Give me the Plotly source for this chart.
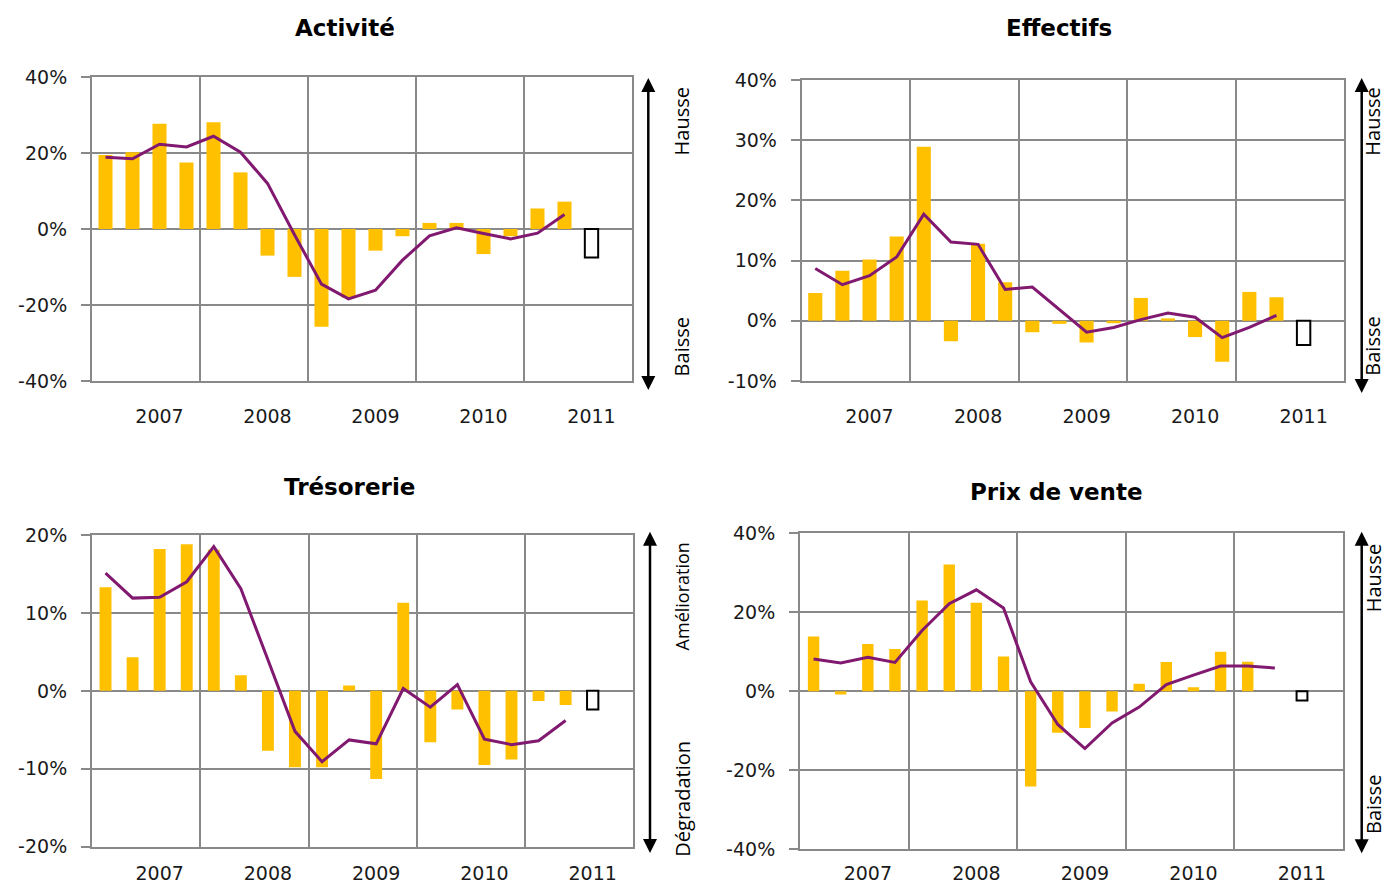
import plotly.graph_objects as go

# ---------------- data ----------------
slots = list(range(18))          # quarterly observations 2007T1 .. 2011T2
fcast_slot = 18                  # forecast (outlined box)
year_pos = [2, 6, 10, 14, 18]
year_labels = ["2007", "2008", "2009", "2010", "2011"]

act_bars = [19.5, 20.2, 27.7, 17.5, 28.1, 14.9, -7.0, -12.6, -25.7, -18.1, -5.7, -1.9, 1.6, 1.6, -6.6, -1.9, 5.4, 7.2]
act_line = [18.9, 18.5, 22.3, 21.6, 24.4, 20.2, 12.0, -1.5, -14.5, -18.4, -16.1, -8.2, -1.8, 0.3, -1.2, -2.6, -1.1, 3.8]
act_fc = -7.5

eff_bars = [4.6, 8.3, 10.2, 14.0, 28.9, -3.4, 12.8, 6.4, -1.9, -0.5, -3.6, -0.4, 3.8, 0.4, -2.7, -6.8, 4.8, 3.9]
eff_line = [8.7, 6.0, 7.5, 10.6, 17.7, 13.1, 12.7, 5.2, 5.6, 1.8, -1.9, -1.1, 0.2, 1.3, 0.6, -2.8, -1.1, 0.9]
eff_fc = -4.0

tre_bars = [13.3, 4.3, 18.2, 18.8, 18.1, 2.0, -7.7, -9.8, -9.8, 0.7, -11.3, 11.3, -6.6, -2.4, -9.5, -8.8, -1.3, -1.8]
tre_line = [15.1, 11.9, 12.0, 14.0, 18.5, 13.1, 4.0, -5.2, -9.1, -6.3, -6.8, 0.3, -2.1, 0.8, -6.2, -6.9, -6.4, -3.8]
tre_fc = -2.4

prix_bars = [13.9, -0.8, 12.0, 10.7, 23.0, 32.1, 22.4, 8.8, -24.1, -10.5, -9.3, -5.1, 1.9, 7.4, 1.0, 10.0, 7.5, None]
prix_line = [8.2, 7.2, 8.6, 7.3, 15.4, 22.2, 25.7, 21.1, 2.4, -8.4, -14.5, -8.0, -4.0, 1.7, 4.1, 6.4, 6.4, 5.9]
prix_fc = -2.3

# ---------------- layout helpers ----------------
OFF = 8
W, H = 1379, 876
def fx(X):
    return (X - OFF) / W
def fy(Y):
    return 1 - (Y - OFF) / H

BAR = "#FFC000"
LINE = "#80196F"
GRID = "#898989"
TXT = "#1a1a1a"

panels = [
    dict(title="Activité", bars=act_bars, line=act_line, fc=act_fc,
         box=(92, 632, 77, 381), yr=(-40, 40), dt=20, bw=0.52, xs=17,
         tpos=(344.5, 28), arrow=(648.3, 78, 390),
         labels=[("Hausse", 681.7, 121.7, 20), ("Baisse", 681.7, 346.7, 20)]),
    dict(title="Effectifs", bars=eff_bars, line=eff_line, fc=eff_fc,
         box=(801.7, 1344.3, 80, 381), yr=(-10, 40), dt=10, bw=0.52, xs=17,
         tpos=(1059, 28), arrow=(1361.7, 78, 393),
         labels=[("Hausse", 1373, 121.7, 20), ("Baisse", 1373, 346.7, 20)]),
    dict(title="Trésorerie", bars=tre_bars, line=tre_line, fc=tre_fc,
         box=(92, 633.3, 535, 846.7), yr=(-20, 20), dt=10, bw=0.44, xs=8,
         tpos=(349.5, 487), arrow=(650, 531.7, 853),
         labels=[("Amélioration", 681.7, 596.7, 18), ("Dégradation", 681.7, 799, 20)]),
    dict(title="Prix de vente", bars=prix_bars, line=prix_line, fc=prix_fc,
         box=(800, 1342.7, 533.3, 849.3), yr=(-40, 40), dt=20, bw=0.42, xs=6,
         tpos=(1056.5, 492), arrow=(1361.7, 531.7, 853.3),
         labels=[("Hausse", 1373, 578.3, 20), ("Baisse", 1373, 805, 20)]),
]

fig = go.Figure()
annotations = []
shapes = []

for i, p in enumerate(panels, start=1):
    xa = "x" if i == 1 else f"x{i}"
    ya = "y" if i == 1 else f"y{i}"
    fig.add_trace(go.Bar(x=slots, y=p["bars"], width=p["bw"], marker=dict(color=BAR, line=dict(width=0)),
                         xaxis=xa, yaxis=ya, showlegend=False))
    fig.add_trace(go.Bar(x=[fcast_slot], y=[p["fc"]], width=p["bw"] * 0.95,
                         marker=dict(color="white", line=dict(color="black", width=2)),
                         xaxis=xa, yaxis=ya, showlegend=False))
    fig.add_trace(go.Scatter(x=slots, y=p["line"], mode="lines", line=dict(color=LINE, width=3),
                             xaxis=xa, yaxis=ya, showlegend=False))
    x0, x1, y0, y1 = p["box"]
    lo, hi = p["yr"]
    tv = list(range(lo, hi + 1, p["dt"]))
    xkey = "xaxis" if i == 1 else f"xaxis{i}"
    ykey = "yaxis" if i == 1 else f"yaxis{i}"
    fig.layout[xkey] = dict(
        domain=[fx(x0), fx(x1)], range=[-0.5, 19.5], anchor=ya, automargin=False,
        tickmode="array", tickvals=year_pos, ticktext=year_labels,
        showgrid=False, zeroline=False, ticks="",
        showline=True, linecolor=GRID, linewidth=2, mirror=True,
        tickfont=dict(family="DejaVu Sans", size=19, color=TXT),
        ticklabelstandoff=p["xs"],
        minor=dict(tickmode="array", tickvals=[3.5, 7.5, 11.5, 15.5], showgrid=True,
                   gridcolor=GRID, gridwidth=2, ticks=""),
    )
    fig.layout[ykey] = dict(
        domain=[fy(y1), fy(y0)], range=[lo, hi], anchor=xa, automargin=False,
        tickmode="array", tickvals=tv, ticktext=[f"{v}%" for v in tv],
        showgrid=True, gridcolor=GRID, gridwidth=2, zeroline=False,
        showline=True, linecolor=GRID, linewidth=2, mirror=True,
        ticks="outside", ticklen=9, tickwidth=2, tickcolor=GRID,
        tickfont=dict(family="DejaVu Sans", size=19, color=TXT),
        ticklabelstandoff=10,
    )
    # title
    tx, ty = p["tpos"]
    annotations.append(dict(text=f"<b>{p['title']}</b>", x=fx(tx), y=fy(ty), xref="paper", yref="paper",
                            xanchor="center", yanchor="middle", showarrow=False,
                            font=dict(family="DejaVu Sans", size=23, color="black")))
    # side labels
    for txt, lx, ly, fs in p["labels"]:
        annotations.append(dict(text=txt, x=fx(lx), y=fy(ly), xref="paper", yref="paper",
                                xanchor="center", yanchor="middle", showarrow=False, textangle=-90,
                                font=dict(family="Open Sans", size=fs, color="black")))
    # double arrow
    ax, atop, abot = p["arrow"]
    hl, hw = 14, 7
    shapes.append(dict(type="line", xref="paper", yref="paper",
                       x0=fx(ax), x1=fx(ax), y0=fy(atop + hl - 1), y1=fy(abot - hl + 1),
                       line=dict(color="black", width=2.5)))
    shapes.append(dict(type="path", xref="paper", yref="paper",
                       path=f"M {fx(ax)},{fy(atop)} L {fx(ax - hw)},{fy(atop + hl)} L {fx(ax + hw)},{fy(atop + hl)} Z",
                       fillcolor="black", line=dict(width=0)))
    shapes.append(dict(type="path", xref="paper", yref="paper",
                       path=f"M {fx(ax)},{fy(abot)} L {fx(ax - hw)},{fy(abot - hl)} L {fx(ax + hw)},{fy(abot - hl)} Z",
                       fillcolor="black", line=dict(width=0)))

fig.update_layout(
    width=W, height=H, margin=dict(l=0, r=0, t=0, b=0),
    paper_bgcolor="white", plot_bgcolor="white",
    barmode="overlay", annotations=annotations, shapes=shapes,
    font=dict(family="DejaVu Sans", color=TXT),
)

fig.write_html("out.html")
